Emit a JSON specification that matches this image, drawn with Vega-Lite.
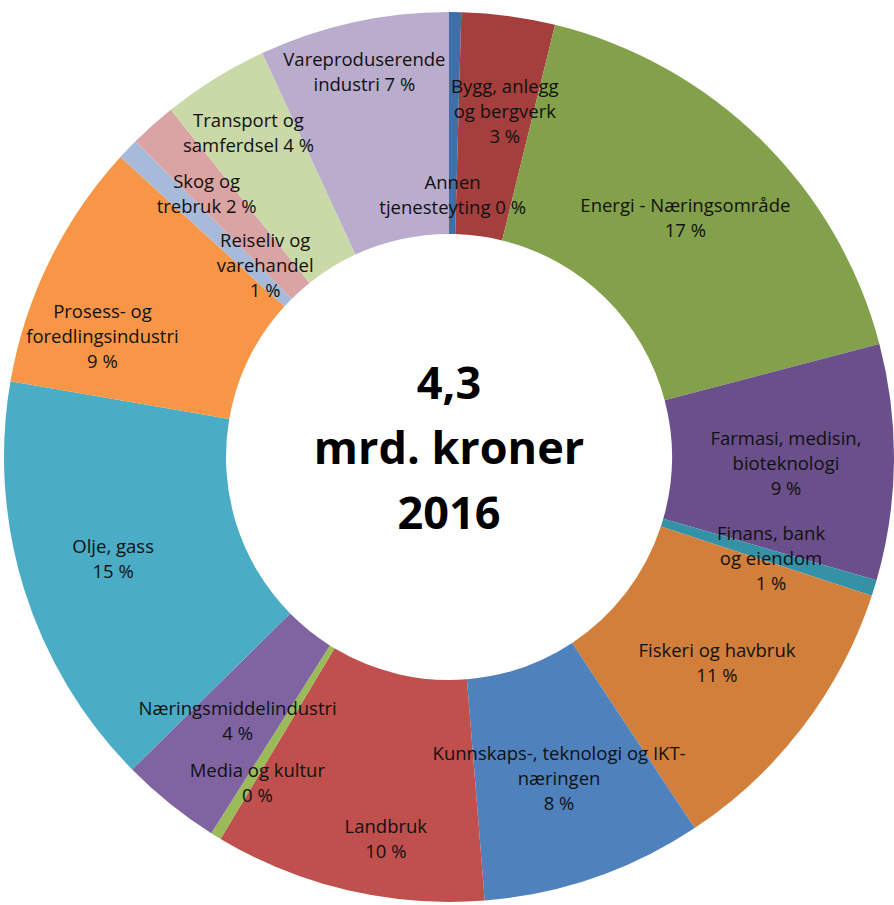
{
  "$schema": "https://vega.github.io/schema/vega-lite/v6.json",
  "width": 894,
  "height": 905,
  "autosize": {"type": "fit", "contains": "padding"},
  "padding": {"left": 4, "top": 9, "right": 0, "bottom": 0},
  "background": "white",
  "view": {"stroke": null},
  "config": {"text": {"font": "Open Sans", "fontSize": 18.5, "color": "#111111", "lineBreak": "\n", "lineHeight": 25, "align": "center", "baseline": "middle"}},
  "datasets": {
    "sectors": [
      {"order": 1, "name": "Annen tjenesteyting", "label": "Annen\ntjenesteyting 0 %", "value": 0.44},
      {"order": 2, "name": "Bygg, anlegg og bergverk", "label": "Bygg, anlegg\nog bergverk\n3 %", "value": 3.39},
      {"order": 3, "name": "Energi - Næringsområde", "label": "Energi - Næringsområde\n17 %", "value": 17.08},
      {"order": 4, "name": "Farmasi, medisin, bioteknologi", "label": "Farmasi, medisin,\nbioteknologi\n9 %", "value": 8.56},
      {"order": 5, "name": "Finans, bank og eiendom", "label": "Finans, bank\nog eiendom\n1 %", "value": 0.58},
      {"order": 6, "name": "Fiskeri og havbruk", "label": "Fiskeri og havbruk\n11 %", "value": 10.64},
      {"order": 7, "name": "Kunnskaps-, teknologi og IKT-næringen", "label": "Kunnskaps-, teknologi og IKT-\nnæringen\n8 %", "value": 8.03},
      {"order": 8, "name": "Landbruk", "label": "Landbruk\n10 %", "value": 9.86},
      {"order": 9, "name": "Media og kultur", "label": "Media og kultur\n0 %", "value": 0.39},
      {"order": 10, "name": "Næringsmiddelindustri", "label": "Næringsmiddelindustri\n4 %", "value": 3.64},
      {"order": 11, "name": "Olje, gass", "label": "Olje, gass\n15 %", "value": 15.11},
      {"order": 12, "name": "Prosess- og foredlingsindustri", "label": "Prosess- og\nforedlingsindustri\n9 %", "value": 9.06},
      {"order": 13, "name": "Reiseliv og varehandel", "label": "Reiseliv og\nvarehandel\n1 %", "value": 0.78},
      {"order": 14, "name": "Skog og trebruk", "label": "Skog og\ntrebruk 2 %", "value": 1.69},
      {"order": 15, "name": "Transport og samferdsel", "label": "Transport og\nsamferdsel 4 %", "value": 3.86},
      {"order": 16, "name": "Vareproduserende industri", "label": "Vareproduserende\nindustri 7 %", "value": 6.89}
    ],
    "centre": [{"t": "4,3\nmrd. kroner\n2016"}]
  },
  "data": {"name": "sectors"},
  "layer": [
    {
      "mark": {"type": "arc", "outerRadius": 445, "innerRadius": 223},
      "encoding": {
        "theta": {"field": "value", "type": "quantitative", "stack": true},
        "order": {"field": "order", "type": "quantitative"},
        "color": {
          "field": "name", "type": "nominal", "legend": null,
          "scale": {
            "domain": ["Annen tjenesteyting", "Bygg, anlegg og bergverk", "Energi - Næringsområde", "Farmasi, medisin, bioteknologi", "Finans, bank og eiendom", "Fiskeri og havbruk", "Kunnskaps-, teknologi og IKT-næringen", "Landbruk", "Media og kultur", "Næringsmiddelindustri", "Olje, gass", "Prosess- og foredlingsindustri", "Reiseliv og varehandel", "Skog og trebruk", "Transport og samferdsel", "Vareproduserende industri"],
            "range": ["#3F6FA9", "#A53F3D", "#83A04A", "#6A4F8A", "#3591A6", "#D27F3C", "#4F81BD", "#C0504D", "#9BBB59", "#8064A2", "#4BACC6", "#F79646", "#A8BADA", "#D9A4A3", "#C9D9A8", "#B9ACCD"]
          }
        }
      }
    },
    {
      "mark": {"type": "text", "radius": 337, "dy": -10.5},
      "encoding": {
        "theta": {"field": "value", "type": "quantitative", "stack": true},
        "order": {"field": "order", "type": "quantitative"},
        "text": {"condition": {"test": "indexof([3,6,10], datum.order) >= 0", "field": "label", "type": "nominal"}, "value": ""}
      }
    },
    {
      "mark": {"type": "text", "radius": 337, "dy": -22},
      "encoding": {
        "theta": {"field": "value", "type": "quantitative", "stack": true},
        "order": {"field": "order", "type": "quantitative"},
        "text": {"condition": {"test": "indexof([4,5,7], datum.order) >= 0", "field": "label", "type": "nominal"}, "value": ""}
      }
    },
    {
      "mark": {"type": "text", "radius": 352, "dy": -15},
      "encoding": {
        "theta": {"field": "value", "type": "quantitative", "stack": true},
        "order": {"field": "order", "type": "quantitative"},
        "text": {"condition": {"test": "datum.order == 11", "field": "label", "type": "nominal"}, "value": ""}
      }
    },
    {
      "mark": {"type": "text", "radius": 352, "dx": -8, "dy": -12.5},
      "encoding": {
        "theta": {"field": "value", "type": "quantitative", "stack": true},
        "order": {"field": "order", "type": "quantitative"},
        "text": {"condition": {"test": "datum.order == 14", "field": "label", "type": "nominal"}, "value": ""}
      }
    },
    {
      "mark": {"type": "text", "radius": 350, "dx": 9, "dy": -23},
      "encoding": {
        "theta": {"field": "value", "type": "quantitative", "stack": true},
        "order": {"field": "order", "type": "quantitative"},
        "text": {"condition": {"test": "datum.order == 2", "field": "label", "type": "nominal"}, "value": ""}
      }
    },
    {
      "mark": {"type": "text", "radius": 263, "dy": -11},
      "encoding": {
        "theta": {"field": "value", "type": "quantitative", "stack": true},
        "order": {"field": "order", "type": "quantitative"},
        "text": {"condition": {"test": "datum.order == 1", "field": "label", "type": "nominal"}, "value": ""}
      }
    },
    {
      "mark": {"type": "text", "radius": 263, "dx": 6, "dy": -34},
      "encoding": {
        "theta": {"field": "value", "type": "quantitative", "stack": true},
        "order": {"field": "order", "type": "quantitative"},
        "text": {"condition": {"test": "datum.order == 13", "field": "label", "type": "nominal"}, "value": ""}
      }
    },
    {
      "mark": {"type": "text", "radius": 394, "dy": -12.5},
      "encoding": {
        "theta": {"field": "value", "type": "quantitative", "stack": true},
        "order": {"field": "order", "type": "quantitative"},
        "text": {"condition": {"test": "datum.order == 16", "field": "label", "type": "nominal"}, "value": ""}
      }
    },
    {
      "mark": {"type": "text", "radius": 381, "dy": -12.5},
      "encoding": {
        "theta": {"field": "value", "type": "quantitative", "stack": true},
        "order": {"field": "order", "type": "quantitative"},
        "text": {"condition": {"test": "datum.order == 15", "field": "label", "type": "nominal"}, "value": ""}
      }
    },
    {
      "mark": {"type": "text", "radius": 383, "dx": 9, "dy": -12.5},
      "encoding": {
        "theta": {"field": "value", "type": "quantitative", "stack": true},
        "order": {"field": "order", "type": "quantitative"},
        "text": {"condition": {"test": "datum.order == 9", "field": "label", "type": "nominal"}, "value": ""}
      }
    },
    {
      "mark": {"type": "text", "radius": 388, "dx": 25, "dy": -7.5},
      "encoding": {
        "theta": {"field": "value", "type": "quantitative", "stack": true},
        "order": {"field": "order", "type": "quantitative"},
        "text": {"condition": {"test": "datum.order == 8", "field": "label", "type": "nominal"}, "value": ""}
      }
    },
    {
      "mark": {"type": "text", "radius": 367, "dx": -17, "dy": 16},
      "encoding": {
        "theta": {"field": "value", "type": "quantitative", "stack": true},
        "order": {"field": "order", "type": "quantitative"},
        "text": {"condition": {"test": "datum.order == 12", "field": "label", "type": "nominal"}, "value": ""}
      }
    },
    {
      "data": {"name": "centre"},
      "mark": {"type": "text", "font": "Open Sans", "fontWeight": "bold", "fontSize": 45, "lineHeight": 65, "color": "#000000", "dy": -72},
      "encoding": {
        "theta": {"value": 0},
        "radius": {"value": 0},
        "text": {"field": "t", "type": "nominal"}
      }
    }
  ]
}
